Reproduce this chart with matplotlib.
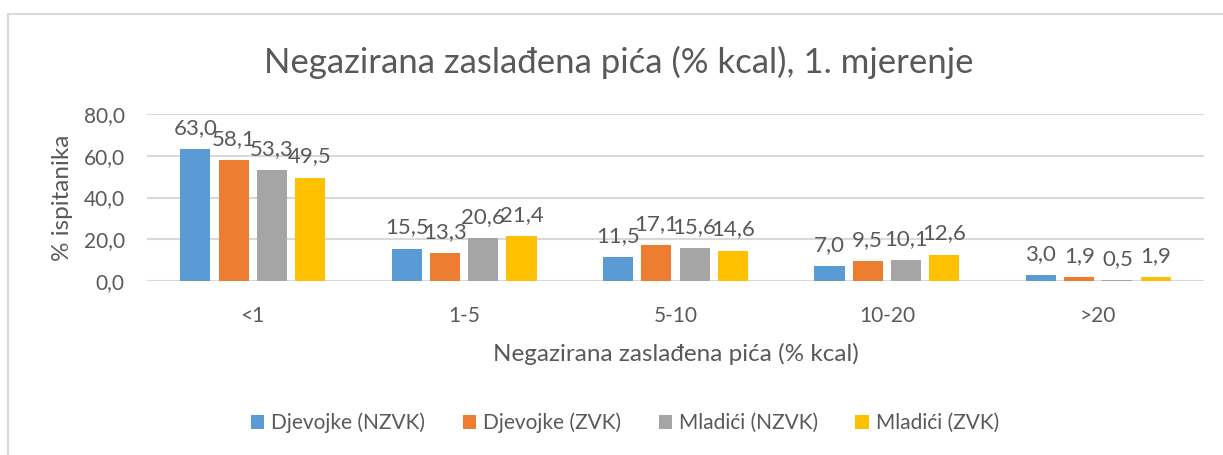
import matplotlib
matplotlib.use("Agg")
import matplotlib.pyplot as plt
from matplotlib.patches import Rectangle
import numpy as np

categories = ["<1", "1-5", "5-10", "10-20", ">20"]
series_names = ["Djevojke (NZVK)", "Djevojke (ZVK)", "Mladići (NZVK)", "Mladići (ZVK)"]
djevojke_nzvk = [63.0, 15.5, 11.5, 7.0, 3.0]
djevojke_zvk = [58.1, 13.3, 17.1, 9.5, 1.9]
mladici_nzvk = [53.3, 20.6, 15.6, 10.1, 0.5]
mladici_zvk = [49.5, 21.4, 14.6, 12.6, 1.9]
yticks = [0, 20, 40, 60, 80]

colors = ["#5B9BD5", "#ED7D31", "#A5A5A5", "#FFC000"]
txt = "#595959"
plt.rcParams['font.family'] = ['Lato', 'DejaVu Sans']

W, H = 1223, 455
fig = plt.figure(figsize=(W / 100, H / 100), dpi=100)
ax = fig.add_axes([147 / W, 1 - 281 / H, (1204 - 147) / W, (281 - 114) / H])

x = np.arange(len(categories))
bw = 0.142
step = 0.181
data = [djevojke_nzvk, djevojke_zvk, mladici_nzvk, mladici_zvk]
for i, (vals, c, name) in enumerate(zip(data, colors, series_names)):
    pos = x + (i - 1.5) * step
    ax.bar(pos, vals, width=bw, color=c, label=name, zorder=3)
    for p, v in zip(pos, vals):
        ax.annotate(f"{v:.1f}".replace('.', ','), (p, v), xytext=(0, 8),
                    textcoords="offset points", ha="center", va="bottom",
                    fontsize=16, color=txt, zorder=4)

ax.set_xlim(-0.5, len(categories) - 0.5)
ax.set_ylim(0, 80)
ax.set_yticks(yticks)
ax.set_yticklabels([f"{t:.1f}".replace('.', ',') for t in yticks])
ax.set_xticks(x)
ax.set_xticklabels(categories)
ax.tick_params(axis='both', length=0, labelsize=15, labelcolor=txt)
ax.tick_params(axis='x', pad=18)
ax.tick_params(axis='y', pad=16)
ax.grid(axis='y', color="#D9D9D9", linewidth=1.5, zorder=0)
for s in ax.spines.values():
    s.set_visible(False)

ax.set_ylabel("% ispitanika", fontsize=17.5, color=txt, labelpad=8)
ax.set_xlabel("Negazirana zaslađena pića (% kcal)", fontsize=17.5, color=txt, labelpad=12)

fig.text(619 / W, 1 - 62 / H, "Negazirana zaslađena pića (% kcal), 1. mjerenje",
         ha="center", va="center", fontsize=25, color=txt)

leg = fig.legend(loc="center", bbox_to_anchor=(625 / W, 1 - 423 / H), ncol=4,
                 frameon=False, fontsize=15, handlelength=0.63, handleheight=0.63,
                 handletextpad=0.34, columnspacing=1.8, labelcolor=txt,
                 borderpad=0, borderaxespad=0)

fig.patches.append(Rectangle((8 / W, -0.1), 1.2, (H - 14) / H + 0.1,
                             transform=fig.transFigure, fill=False,
                             edgecolor="#D9D9D9", linewidth=1.5))

fig.savefig("out.png", dpi=100)
